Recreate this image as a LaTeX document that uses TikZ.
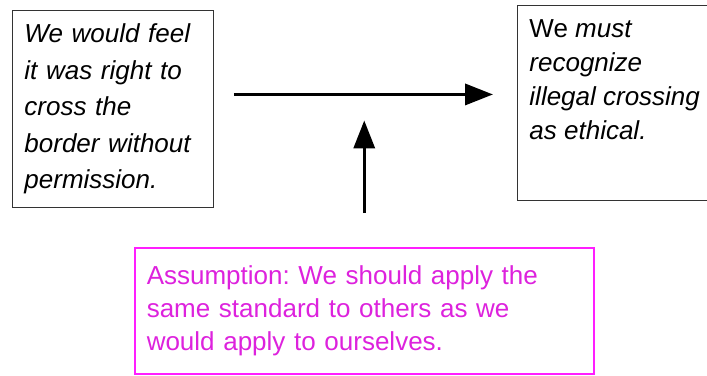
\documentclass[tikz,border=0pt]{standalone}
\usepackage{fontspec}
\setmainfont{Liberation Sans}
\frenchspacing
\definecolor{frame}{HTML}{333333}
\definecolor{M}{HTML}{FF1EFF}
\definecolor{Mtext}{HTML}{DD22DD}
\usepackage{tikz}
\usetikzlibrary{arrows.meta}
\usetikzlibrary{positioning}
\tikzstyle{base}=[x=1pt, y=-1pt]
\tikzstyle{argbox}=[draw=frame, line width=0.9pt, rectangle, inner xsep=12pt, align=left, anchor=north west, font=\fontsize{26}{36.5}\selectfont]
\tikzstyle{infer}=[line width=3.5pt, -{Triangle[length=28pt, width=21pt]}]

\begin{document}
\begin{tikzpicture}[base]
    \useasboundingbox (0,0) rectangle (707,375);
        % premise and conclusion
        \node [argbox, text width=177pt, minimum width=201pt, minimum height=197pt, inner ysep=0pt] (reason) at (12,10)
            {\itshape We would feel\\ it was right to\\ cross the\\ border without\\ permission.};
        \node [argbox, inner ysep=14pt] (claim) at (517,5)
            {\parbox[t][167pt][t]{185pt}{\fontsize{26}{34}\selectfont
            We \textit{must}\\ \textit{recognize}\\ \textit{illegal crossing}\\ \textit{as ethical.}}};
        % the unstated assumption
        \node [argbox, draw=M, line width=1.5pt, text=Mtext, text width=435pt, minimum width=459pt, minimum height=126pt, inner ysep=0pt, font=\fontsize{26}{33}\selectfont] (assume) at (134,247)
            {Assumption: We should apply the\\ same standard to others as we\\ would apply to ourselves.};
        \coordinate (flow) at ([yshift=14.5pt]reason.east);
        \draw [infer, shorten <=20pt, shorten >=24pt] (flow) -- (flow -| claim.west);
        \draw [infer, shorten <=34pt, shorten >=26pt] (assume.north) -- (assume.north |- flow);
    \end{tikzpicture}
\end{document}
